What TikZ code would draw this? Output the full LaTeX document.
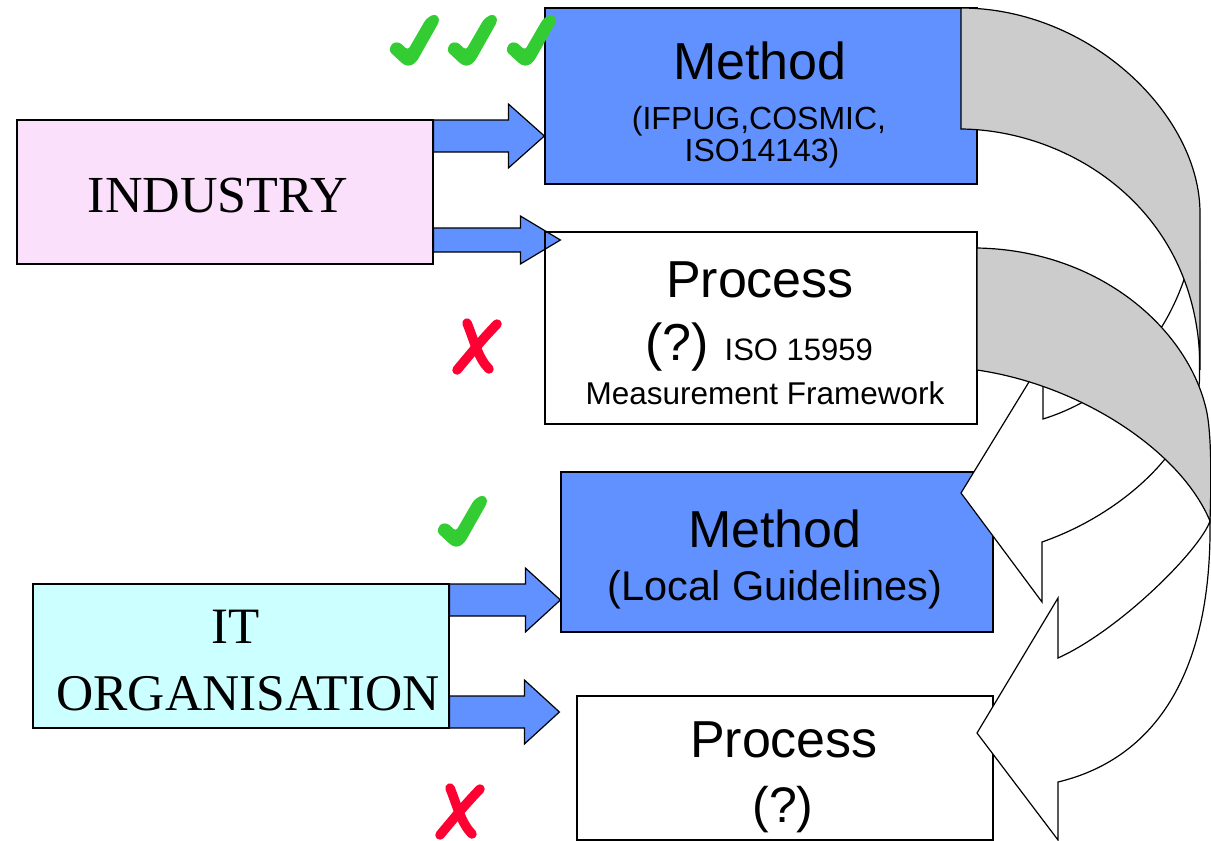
\documentclass[tikz,border=0pt]{standalone}
\usepackage{fontspec}
\setmainfont{Liberation Sans}
\newfontfamily\timesface{Liberation Serif}
\usetikzlibrary{calc,backgrounds}

\definecolor{methodblue}{RGB}{97,145,255}
\definecolor{industrypink}{RGB}{251,224,251}
\definecolor{itcyan}{RGB}{204,255,255}
\definecolor{ribbongray}{RGB}{204,204,204}
\definecolor{okgreen}{RGB}{51,204,51}
\definecolor{nored}{RGB}{255,0,51}

\newcommand{\fsz}[1]{\fontsize{#1}{#1}\selectfont}

% fat arrow: tail, tip, half shaft, half head, head length
\newcommand{\blockarrow}[5]{%
  \draw[fatarrow] ($(#1)+(0,-#3)$) -- ($(#2)+(-#5,-#3)$) -- ($(#2)+(-#5,-#4)$) -- (#2)
    -- ($(#2)+(-#5,#4)$) -- ($(#2)+(-#5,#3)$) -- ($(#1)+(0,#3)$) -- cycle;}

\tikzset{
  box/.style={draw, line width=1.2pt, inner sep=0pt},
  boxtext/.style={anchor=base, inner sep=0pt},
  fatarrow/.style={draw, fill=methodblue, line width=1.2pt},
  ribbonback/.style={draw, fill=ribbongray, line width=1.2pt},
  ribbonfront/.style={draw, fill=white, line width=1.2pt},
  okmark/.pic={\fill[okgreen, rounded corners=3pt] (0,36) -- (3,28) -- (10,27) -- (19,35)
    -- (37,4) -- (45,-1) -- (50,2) -- (50,7) -- (28,46) -- (22,51) -- (15,50) -- cycle;},
  nomark/.pic={\draw[nored, line width=9.5pt, line cap=round] (15,5) .. controls (22,22) and (26,40) .. (37,51);
    \draw[nored, line width=9.5pt, line cap=round] (45,6) .. controls (30,22) .. (5,52);},
}

\begin{document}
\begin{tikzpicture}[x=1pt, y=-1pt]
\useasboundingbox (0,0) rectangle (1211,841);

% boxes
\node[box, fill=industrypink, minimum width=416pt, minimum height=144pt] (industry) at (225,192) {};
\node[box, fill=methodblue, minimum width=432pt, minimum height=176pt] (method1) at (761,96) {};
\node[box, minimum width=432pt, minimum height=192pt] (process1) at (761,328) {};
\node[box, fill=itcyan, minimum width=416pt, minimum height=144pt] (itorg) at (241,656) {};
\node[box, fill=methodblue, minimum width=432pt, minimum height=160pt] (method2) at (777,552) {};
\node[box, fill=white, minimum width=416pt, minimum height=144pt] (process2) at (785,768) {};

% texts
\node[boxtext, font=\timesface\fsz{52}] (industrytxt) at (218,212) {INDUSTRY};
\node[boxtext, font=\timesface\fsz{51}] (ittxt) at (236,643) {IT};
\node[boxtext, font=\timesface\fsz{51.5}] (orgtxt) at (248,710) {ORGANISATION};
\node[boxtext, font=\fsz{52}] (m1title) at (760,79) {Method};
\node[boxtext, font=\fsz{32}] (m1sub) at (759,129) {(IFPUG,COSMIC,};
\node[boxtext, font=\fsz{32}] (m1iso) at (762,161) {ISO14143)};
\node[boxtext, font=\fsz{52}] (p1title) at (760,297) {Process};
\node[boxtext, font=\fsz{31}] (p1sub) at (759,360) {{\fsz{52}(?)}\hspace{16pt}ISO 15959};
\node[boxtext, font=\fsz{31.5}] (p1frame) at (765,404) {Measurement Framework};
\node[boxtext, font=\fsz{52}] (m2title) at (775,547) {Method};
\node[boxtext, font=\fsz{41.5}] (m2sub) at (775,600) {(Local Guidelines)};
\node[boxtext, font=\fsz{52}] (p2title) at (784,757) {Process};
\node[boxtext, font=\fsz{50}] (p2sub) at (783,822) {(?)};

% block arrows behind the boxes
\begin{pgfonlayer}{background}
\blockarrow{[yshift=56pt]industry.east}{[yshift=-40pt]method1.west}{16}{32}{36}
\blockarrow{[yshift=-48pt]industry.east}{[xshift=16pt,yshift=88pt]process1.west}{12}{24}{40}
\blockarrow{[yshift=56pt]itorg.east}{[yshift=-48pt]method2.west}{16}{32}{35}
\blockarrow{[yshift=-56pt]itorg.east}{[xshift=-17pt,yshift=56pt]process2.west}{16}{32}{35}
\end{pgfonlayer}

% curved arrow, method to method
\draw[ribbonfront] (1195,235) .. controls (1180,330) and (1120,395) .. (1043,419) -- (1043,359)
  -- (961,493) -- (1042,602) -- (1042,542) .. controls (1120,515) and (1195,450) .. (1199.5,380)
  -- (1199.5,260) -- cycle;
\draw[ribbonback] (961,8) .. controls (1090,8) and (1200,115) .. (1200,213) -- (1200,370)
  .. controls (1200,210) and (1070,130) .. (961,129) -- cycle;

% curved arrow, process to process
\draw[ribbonfront] (1210,521) .. controls (1200,550) and (1120,630) .. (1058,658) -- (1058,598)
  -- (977,733) -- (1058,840) -- (1058,782) .. controls (1150,760) and (1212,680) .. (1210,521) -- cycle;
\draw[ribbonback] (977,248) .. controls (1100,250) and (1190,330) .. (1207,413)
  .. controls (1212,440) and (1211,490) .. (1210,521)
  .. controls (1180,450) and (1080,385) .. (977,370) -- cycle;

% ticks and crosses
\pic at (389,15) {okmark};
\pic at (447,15) {okmark};
\pic at (506,15) {okmark};
\pic at (437,496) {okmark};
\pic at (452,318) {nomark};
\pic at (435,783) {nomark};
\end{tikzpicture}
\end{document}
